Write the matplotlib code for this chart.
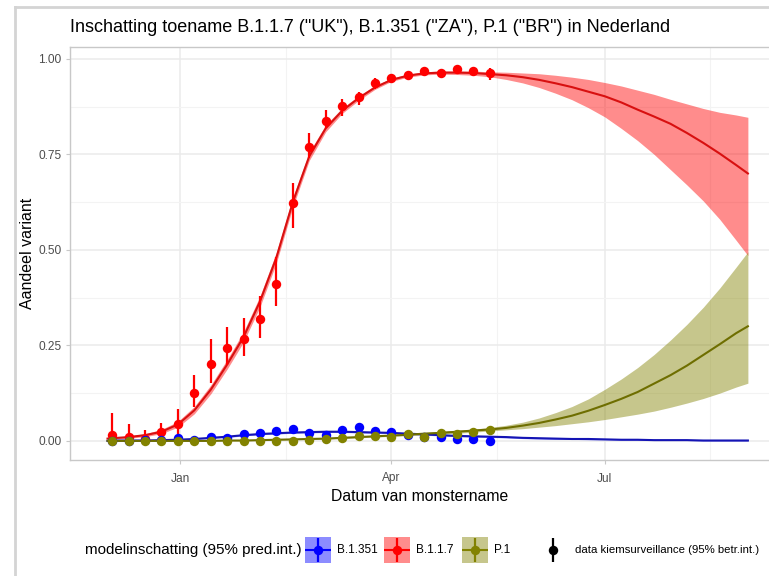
import matplotlib
matplotlib.use("Agg")
import matplotlib.pyplot as plt
import matplotlib.dates as mdates
from matplotlib.lines import Line2D
from matplotlib.patches import Rectangle
import pandas as pd

plt.rcParams['font.family'] = ['Liberation Sans', 'DejaVu Sans']

# weekly samples (kiemsurveillance)
sample_dates = pd.date_range("2020-12-03", periods=24, freq="7D")

red_pt = [0.016, 0.010, 0.005, 0.022, 0.044, 0.125, 0.202, 0.243, 0.267, 0.318, 0.411, 0.622,
          0.768, 0.838, 0.876, 0.900, 0.938, 0.949, 0.957, 0.969, 0.963, 0.973, 0.967, 0.962]
red_lo = [0.000, 0.000, 0.000, 0.005, 0.011, 0.090, 0.151, 0.199, 0.223, 0.269, 0.352, 0.557,
          0.740, 0.819, 0.851, 0.878, 0.921, 0.937, 0.946, 0.959, 0.952, 0.964, 0.957, 0.945]
red_hi = [0.072, 0.044, 0.029, 0.046, 0.083, 0.173, 0.266, 0.298, 0.321, 0.378, 0.482, 0.676,
          0.805, 0.865, 0.895, 0.914, 0.949, 0.960, 0.966, 0.977, 0.972, 0.981, 0.975, 0.975]

blue_pt = [0.001, 0.001, 0.002, 0.003, 0.007, 0.003, 0.011, 0.007, 0.018, 0.020, 0.027, 0.031,
           0.020, 0.016, 0.029, 0.037, 0.026, 0.024, 0.016, 0.011, 0.010, 0.004, 0.004, 0.001]
blue_lo = [0.000, 0.000, 0.000, 0.000, 0.002, 0.000, 0.005, 0.003, 0.012, 0.014, 0.020, 0.024,
           0.014, 0.010, 0.022, 0.029, 0.019, 0.017, 0.010, 0.006, 0.005, 0.001, 0.001, 0.000]
blue_hi = [0.008, 0.006, 0.007, 0.008, 0.015, 0.009, 0.020, 0.014, 0.026, 0.028, 0.035, 0.039,
           0.028, 0.024, 0.037, 0.046, 0.034, 0.032, 0.024, 0.018, 0.017, 0.010, 0.010, 0.006]

olive_pt = [0.000, 0.000, 0.000, 0.000, 0.000, 0.000, 0.000, 0.000, 0.000, 0.000, 0.000, 0.001,
            0.003, 0.005, 0.007, 0.013, 0.013, 0.011, 0.017, 0.011, 0.020, 0.017, 0.024, 0.029]
olive_lo = [0.000, 0.000, 0.000, 0.000, 0.000, 0.000, 0.000, 0.000, 0.000, 0.000, 0.000, 0.000,
            0.000, 0.002, 0.004, 0.009, 0.009, 0.007, 0.012, 0.007, 0.015, 0.012, 0.019, 0.023]
olive_hi = [0.004, 0.003, 0.003, 0.003, 0.003, 0.003, 0.003, 0.003, 0.003, 0.003, 0.004, 0.005,
            0.007, 0.009, 0.011, 0.018, 0.018, 0.016, 0.022, 0.016, 0.026, 0.022, 0.030, 0.035]

# model fit (multinomial), with 95% prediction interval
fit_dates = pd.to_datetime(["2020-12-01"]).append(
    pd.date_range("2020-12-03", "2021-08-26", freq="7D")).append(pd.to_datetime(["2021-08-31"]))

red_fit = [0.006, 0.007, 0.010, 0.015, 0.024, 0.043, 0.080, 0.134, 0.200, 0.272, 0.365, 0.480,
           0.625, 0.745, 0.818, 0.864, 0.897, 0.925, 0.945, 0.956, 0.962, 0.964, 0.964, 0.963,
           0.960, 0.957, 0.952, 0.945, 0.936, 0.926, 0.914, 0.902, 0.886, 0.867, 0.849, 0.830,
           0.806, 0.780, 0.752, 0.722, 0.700]
red_fit_lo = [0.004, 0.005, 0.007, 0.011, 0.019, 0.036, 0.071, 0.123, 0.188, 0.259, 0.351, 0.466,
              0.612, 0.734, 0.809, 0.857, 0.891, 0.920, 0.941, 0.952, 0.958, 0.960, 0.959, 0.957,
              0.953, 0.946, 0.937, 0.925, 0.910, 0.893, 0.872, 0.848, 0.818, 0.786, 0.750, 0.710,
              0.670, 0.628, 0.580, 0.525, 0.485]
red_fit_hi = [0.008, 0.009, 0.013, 0.019, 0.030, 0.051, 0.090, 0.146, 0.213, 0.286, 0.379, 0.494,
              0.638, 0.756, 0.827, 0.871, 0.903, 0.930, 0.949, 0.960, 0.966, 0.968, 0.968, 0.968,
              0.966, 0.965, 0.963, 0.961, 0.957, 0.952, 0.946, 0.938, 0.929, 0.918, 0.907, 0.894,
              0.882, 0.870, 0.860, 0.853, 0.847]

blue_fit = [0.000, 0.001, 0.001, 0.001, 0.002, 0.003, 0.005, 0.008, 0.011, 0.015, 0.018, 0.020,
            0.022, 0.023, 0.024, 0.024, 0.023, 0.022, 0.021, 0.019, 0.017, 0.015, 0.013, 0.012,
            0.011, 0.010, 0.008, 0.007, 0.006, 0.005, 0.005, 0.004, 0.003, 0.003, 0.002, 0.002,
            0.002, 0.001, 0.001, 0.001, 0.001]
blue_fit_lo = [0.000, 0.000, 0.000, 0.000, 0.001, 0.002, 0.004, 0.006, 0.009, 0.013, 0.016, 0.018,
               0.020, 0.021, 0.022, 0.022, 0.021, 0.020, 0.019, 0.017, 0.015, 0.013, 0.011, 0.010,
               0.009, 0.008, 0.006, 0.005, 0.004, 0.004, 0.003, 0.003, 0.002, 0.002, 0.001, 0.001,
               0.001, 0.000, 0.000, 0.000, 0.000]
blue_fit_hi = [0.001, 0.002, 0.002, 0.002, 0.003, 0.004, 0.006, 0.010, 0.013, 0.017, 0.020, 0.022,
               0.024, 0.025, 0.026, 0.026, 0.025, 0.024, 0.023, 0.021, 0.019, 0.017, 0.015, 0.014,
               0.013, 0.012, 0.010, 0.009, 0.008, 0.007, 0.007, 0.006, 0.005, 0.005, 0.004, 0.004,
               0.004, 0.003, 0.003, 0.003, 0.003]

olive_fit = [0.000, 0.000, 0.000, 0.000, 0.000, 0.000, 0.000, 0.000, 0.001, 0.001, 0.002, 0.003,
             0.004, 0.005, 0.006, 0.008, 0.010, 0.012, 0.014, 0.016, 0.019, 0.021, 0.024, 0.027,
             0.030, 0.034, 0.040, 0.047, 0.056, 0.066, 0.079, 0.094, 0.110, 0.128, 0.150, 0.172,
             0.197, 0.225, 0.253, 0.282, 0.300]
olive_fit_lo = [0.000, 0.000, 0.000, 0.000, 0.000, 0.000, 0.000, 0.000, 0.000, 0.000, 0.001, 0.002,
                0.003, 0.004, 0.005, 0.006, 0.008, 0.010, 0.012, 0.014, 0.016, 0.018, 0.020, 0.023,
                0.026, 0.029, 0.032, 0.036, 0.040, 0.045, 0.050, 0.056, 0.063, 0.070, 0.078, 0.088,
                0.099, 0.111, 0.125, 0.141, 0.151]
olive_fit_hi = [0.001, 0.001, 0.001, 0.001, 0.001, 0.001, 0.001, 0.001, 0.002, 0.002, 0.003, 0.004,
                0.005, 0.006, 0.008, 0.010, 0.012, 0.014, 0.016, 0.019, 0.022, 0.025, 0.028, 0.031,
                0.035, 0.041, 0.049, 0.060, 0.074, 0.090, 0.110, 0.135, 0.162, 0.192, 0.226, 0.264,
                0.305, 0.350, 0.400, 0.455, 0.495]

RED, BLUE, OLIVE = "#FF0000", "#0000FF", "#828200"
variants = [
    ("B.1.1.7", red_fit, red_fit_lo, red_fit_hi, red_pt, red_lo, red_hi, RED, "#D81010"),
    ("B.1.351", blue_fit, blue_fit_lo, blue_fit_hi, blue_pt, blue_lo, blue_hi, BLUE, "#1414B4"),
    ("P.1", olive_fit, olive_fit_lo, olive_fit_hi, olive_pt, olive_lo, olive_hi, OLIVE, "#6E6E00"),
]
RIB_ALPHA = 0.45
W, H = 769, 576

fig = plt.figure(figsize=(W / 100, H / 100), dpi=100)
ax = fig.add_axes([70 / W, 1 - 460 / H, 1 - 70 / W, (460 - 47) / H])

for name, fit, flo, fhi, pt, plo, phi, pc, lc in variants:
    ax.fill_between(fit_dates, flo, fhi, color=pc, alpha=RIB_ALPHA, lw=0, zorder=2)
for name, fit, flo, fhi, pt, plo, phi, pc, lc in variants:
    ax.plot(fit_dates, fit, color=lc, lw=1.5, zorder=3)
for name, fit, flo, fhi, pt, plo, phi, pc, lc in variants:
    ax.vlines(sample_dates, plo, phi, color=pc, lw=1.6, zorder=4)
    ax.plot(sample_dates, pt, "o", color=pc, ms=6.8, mec="none", zorder=5)

ax.set_ylim(-0.05, 1.031)
ax.set_xlim(pd.Timestamp("2020-11-17"), pd.Timestamp("2021-09-09"))
ax.set_yticks([0, 0.25, 0.5, 0.75, 1.0])
ax.set_yticklabels(["0.00", "0.25", "0.50", "0.75", "1.00"])
ax.set_yticks([0.125, 0.375, 0.625, 0.875], minor=True)
ax.xaxis.set_major_locator(mdates.MonthLocator(bymonth=[1, 4, 7, 10]))
ax.xaxis.set_major_formatter(mdates.DateFormatter("%b"))
ax.set_xticks([pd.Timestamp(d) for d in ["2020-11-15", "2021-02-15", "2021-05-16", "2021-08-15"]],
              minor=True)
ax.grid(True, which="major", color="#EBEBEB", lw=1.1, zorder=0)
ax.grid(True, which="minor", color="#F3F3F3", lw=0.8, zorder=0)
ax.set_axisbelow(True)
ax.tick_params(which="major", length=3, color="#C8C8C8", labelcolor="#4D4D4D", labelsize=8.6)
ax.tick_params(axis="x", which="major", pad=6)
ax.tick_params(axis="y", which="major", pad=3)
ax.tick_params(which="minor", length=0)
for s in ["left", "bottom", "top"]:
    ax.spines[s].set_color("#C8C8C8")
    ax.spines[s].set_linewidth(1.0)
ax.spines["right"].set_visible(False)

ax.set_xlabel("Datum van monstername", fontsize=11.3, labelpad=3)
ax.set_ylabel("Aandeel variant", fontsize=11.5)
ax.yaxis.set_label_coords(-35 / 699, 0.5)
fig.text(70 / W, 1 - 28 / H,
         'Inschatting toename B.1.1.7 ("UK"), B.1.351 ("ZA"), P.1 ("BR") in Nederland',
         fontsize=13, va="center", ha="left")


# legend along the bottom, keys drawn in small axes of their own
def draw_key(x0, color, box=True):
    k = fig.add_axes([x0 / W, 1 - 563 / H, 26 / W, 26 / H])
    k.set_xlim(0, 1)
    k.set_ylim(0, 1)
    k.axis("off")
    if box:
        k.add_patch(Rectangle((0, 0), 1, 1, facecolor=color, alpha=RIB_ALPHA, lw=0))
        k.plot([0, 1], [0.5, 0.5], color=color, lw=1.5)
    k.vlines(0.5, 0.05, 0.95, color=color, lw=1.6)
    k.plot(0.5, 0.5, "o", color=color, ms=6.8, mec="none")


legend_y = 1 - 550 / H
fig.text(85 / W, legend_y, "modelinschatting (95% pred.int.)", fontsize=10.9, va="center")
for x0, color, label in [(305, BLUE, "B.1.351"), (384, RED, "B.1.1.7"), (462, OLIVE, "P.1")]:
    draw_key(x0, color)
    fig.text((x0 + 32) / W, legend_y, label, fontsize=8.5, va="center")
draw_key(540, "black", box=False)
fig.text(575 / W, legend_y, "data kiemsurveillance (95% betr.int.)", fontsize=8.2, va="center")

# outer frame
fig.add_artist(Line2D([15 / W, 15 / W], [0, 1 - 7 / H], color="#D4D4D4", lw=2,
                      transform=fig.transFigure))
fig.add_artist(Line2D([15 / W, 1], [1 - 7 / H, 1 - 7 / H], color="#D4D4D4", lw=2,
                      transform=fig.transFigure))

fig.savefig("out.png", dpi=100)
